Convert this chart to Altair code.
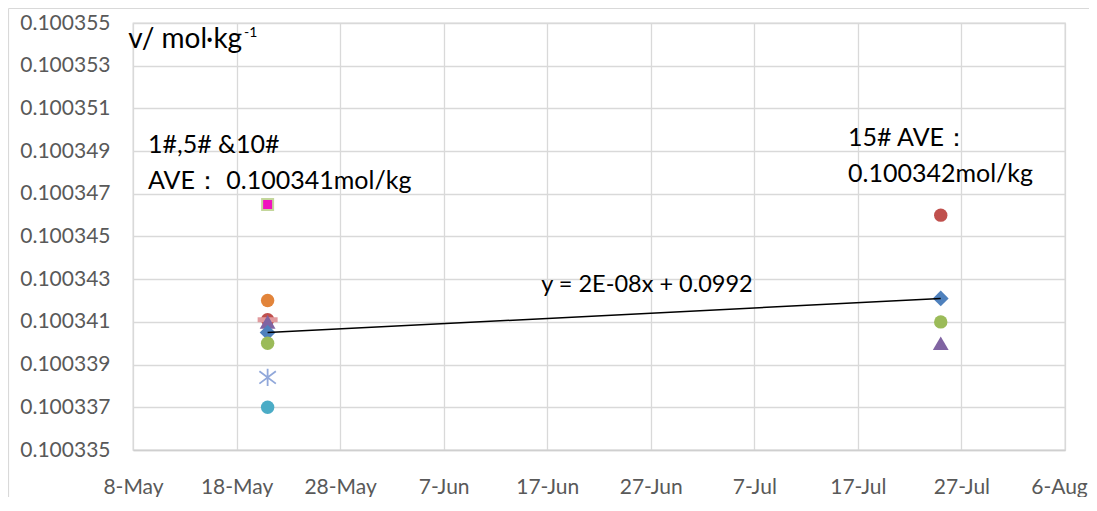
import altair as alt
import pandas as pd

# ---------------- data ----------------
series_names = ["S1", "S2", "S3", "S4", "S5", "S6", "S7", "S8", "S9"]

point_series = ["S8", "S6", "S2", "S9", "S4", "S1", "S3", "S7", "S5",
                "S2", "S1", "S3", "S4"]
point_dates = ["2024-05-21T00:00:00"] * 9 + ["2024-07-25T00:00:00"] * 4
point_values = [0.1003465, 0.1003420, 0.1003411, 0.1003411, 0.1003410,
                0.1003405, 0.1003400, 0.1003384, 0.1003370,
                0.1003460, 0.1003421, 0.1003410, 0.1003400]

y_ticks = [0.100335, 0.100337, 0.100339, 0.100341, 0.100343, 0.100345,
           0.100347, 0.100349, 0.100351, 0.100353, 0.100355]
x_tick_days = [(5, 8), (5, 18), (5, 28), (6, 7), (6, 17), (6, 27),
               (7, 7), (7, 17), (7, 27), (8, 6)]
x_domain = [(5, 8), (8, 6)]

trend_label = "y = 2E-08x + 0.0992"
left_note = ["1#,5# &10#", "AVE：  0.100341mol/kg"]
right_note = ["15# AVE：", "0.100342mol/kg"]
unit_label = "v/ mol·kg"
unit_sup = "-1"

# ---------------- styles ----------------
ASTERISK = "M0,-1L0,1M-0.95,-0.72L0.95,0.72M-0.95,0.72L0.95,-0.72"
DASH = "M-1,-0.25L1,-0.25L1,0.25L-1,0.25Z"
styles = {
    "S1": dict(shape="diamond", color="#4F81BD", size=250),
    "S2": dict(shape="circle", color="#C0504D", size=180),
    "S3": dict(shape="circle", color="#9BBB59", size=180),
    "S4": dict(shape="triangle-up", color="#8064A2", size=250),
    "S5": dict(shape="circle", color="#4BACC6", size=180),
    "S6": dict(shape="circle", color="#E2843A", size=180),
    "S7": dict(shape=ASTERISK, color="#91A8DA", size=300),
    "S8": dict(shape="square", color="#F012BE", size=121),
    "S9": dict(shape=DASH, color="#E19A9E", size=400),
}
draw_order = ["S8", "S6", "S2", "S9", "S4", "S1", "S3", "S7", "S5"]

FONT = "Lato"
YEAR = 2024
BORDER = "#D9D9D9"

df = pd.DataFrame({"series": point_series, "date": point_dates, "value": point_values})

x_enc = alt.X(
    "date:T",
    scale=alt.Scale(domain=[alt.DateTime(year=YEAR, month=m, date=d) for m, d in x_domain]),
    axis=alt.Axis(
        values=[alt.DateTime(year=YEAR, month=m, date=d) for m, d in x_tick_days],
        format="%-d-%b", title=None, ticks=False, grid=True,
        labelPadding=26, labelFlush=False, labelOverlap=False, labelBound=False,
        labelOffset={"condition": {"test": f"datum.value > datetime({YEAR}, 7, 1)", "value": -6},
                     "value": 0},
        domainColor="#CFCFCF", domainWidth=1.5,
    ),
)
y_enc = alt.Y(
    "value:Q",
    scale=alt.Scale(domain=[y_ticks[0], y_ticks[-1]], zero=False, nice=False),
    axis=alt.Axis(values=y_ticks, format=".6f", title=None, ticks=False,
                  domain=False, grid=True, labelPadding=23, labelFlush=False,
                  labelOverlap=False),
)

base = alt.Chart(df).encode(x=x_enc, y=y_enc)
one = pd.DataFrame({"k": [0]})

layers = []

# outer chart-area border (top and left edges; decoration only)
layers.append(
    alt.Chart(one).mark_rule(color=BORDER, strokeWidth=1.2, clip=False)
    .encode(x=alt.value(-124.5), x2=alt.value(1000), y=alt.value(-14.5))
)
layers.append(
    alt.Chart(one).mark_rule(color=BORDER, strokeWidth=1.2, clip=False)
    .encode(x=alt.value(-124.5), y=alt.value(-14.5), y2=alt.value(520))
)

for s in draw_order:
    st = styles[s]
    if s == "S7":
        mark = base.transform_filter(alt.datum.series == s).mark_point(
            shape=st["shape"], filled=False, color=st["color"], size=st["size"],
            strokeWidth=1.8, opacity=1)
    elif s == "S8":
        mark = base.transform_filter(alt.datum.series == s).mark_point(
            shape=st["shape"], filled=True, fill=st["color"], stroke="#C3D69B",
            strokeWidth=2, size=st["size"], opacity=1, fillOpacity=1)
    else:
        mark = base.transform_filter(alt.datum.series == s).mark_point(
            shape=st["shape"], filled=True, color=st["color"], size=st["size"], opacity=1)
    layers.append(mark)

# trendline through the S1 series
layers.append(
    base.transform_filter(alt.datum.series == "S1").mark_line(color="black", strokeWidth=1.5)
)


def text_layer(txt, x, y, size, align="left", color="black"):
    return alt.Chart(pd.DataFrame({"t": [txt]})).mark_text(
        font=FONT, fontSize=size, align=align, baseline="alphabetic", color=color
    ).encode(x=alt.value(x), y=alt.value(y), text="t:N")


layers += [
    text_layer(left_note[0], 15, 130, 25),
    text_layer(left_note[1], 15, 166, 25),
    text_layer(right_note[0], 715, 122.7, 25),
    text_layer(right_note[1], 715, 158.7, 25),
    text_layer(trend_label, 514, 268.7, 23.5, align="center"),
    text_layer(unit_label, -4.7, 25.3, 28),
    text_layer(unit_sup, 111, 13.7, 14),
]

chart = alt.layer(*layers).properties(
    width=932, height=427,
    autosize=alt.AutoSizeParams(type="none"),
    padding={"left": 125, "top": 15, "right": 24, "bottom": 47},
).configure_view(
    stroke=BORDER, strokeWidth=1.3
).configure_axis(
    labelFont=FONT, labelFontSize=21, labelColor="#595959",
    gridColor=BORDER, gridWidth=1.3,
)

chart.save("out.html", embed_options={"renderer": "svg", "actions": False})
